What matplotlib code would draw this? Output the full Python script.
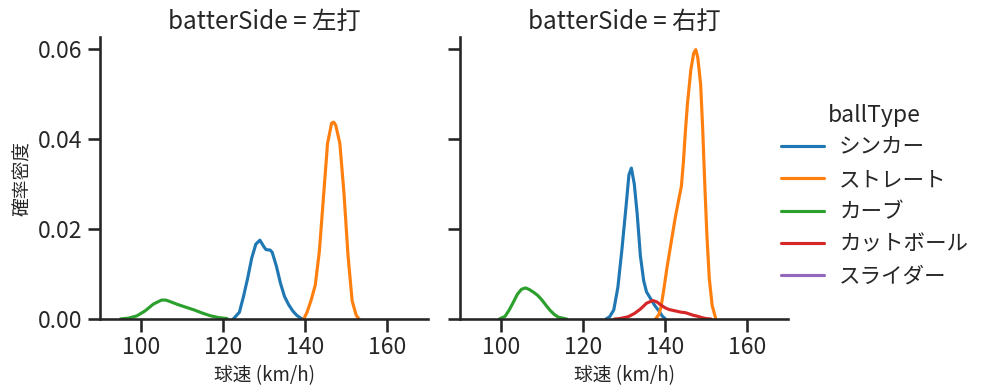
import matplotlib
matplotlib.use("Agg")
import matplotlib.pyplot as plt
import seaborn as sns

sns.set_theme(context="talk", style="ticks")
plt.rcParams['font.family'] = ['Noto Sans CJK JP', 'DejaVu Sans']

ball_types = ["シンカー", "ストレート", "カーブ", "カットボール", "スライダー"]
colors = {"シンカー": "#1f77b4", "ストレート": "#ff7f0e", "カーブ": "#2ca02c",
          "カットボール": "#d62728", "スライダー": "#9467bd"}
panels = ["左打", "右打"]

# ---- left panel (左打) curves ----
L_sinker_x = [122.5, 124, 125, 126, 127, 128, 129, 130, 130.5, 131.5, 132, 133, 134, 135, 136, 137, 138, 139.3]
L_sinker_y = [0, 0.0015, 0.005, 0.009, 0.0135, 0.0166, 0.0175, 0.0160, 0.0154, 0.0153, 0.0148, 0.0118, 0.0080, 0.0050, 0.0032, 0.0018, 0.0008, 0]
L_straight_x = [139.7, 140.5, 141.5, 142.5, 143.5, 144.5, 145.5, 146.5, 147, 147.5, 148.5, 149.5, 150.5, 151.5, 152.5, 153.2]
L_straight_y = [0, 0.0015, 0.0042, 0.0075, 0.015, 0.027, 0.039, 0.0435, 0.0437, 0.043, 0.039, 0.028, 0.014, 0.004, 0.0008, 0]
L_curve_x = [95, 97, 99, 101, 103, 105, 106, 107, 109, 111, 113, 115, 117, 119, 121]
L_curve_y = [0, 0.0002, 0.0007, 0.0018, 0.0033, 0.0042, 0.0042, 0.0039, 0.0032, 0.0026, 0.0020, 0.0013, 0.0007, 0.0003, 0.0001]

# ---- right panel (右打) curves ----
R_sinker_x = [125.6, 126.5, 127.5, 128.5, 129.5, 130.5, 131.2, 131.8, 132.5, 133.2, 134, 134.8, 135.5, 136.5, 137.5, 138.5, 139.3, 140.1]
R_sinker_y = [0, 0.0005, 0.002, 0.007, 0.0155, 0.025, 0.032, 0.0335, 0.030, 0.0235, 0.014, 0.0085, 0.006, 0.0045, 0.003, 0.0018, 0.0007, 0]
R_straight_x = [137.7, 138.5, 139, 139.7, 140.5, 141.5, 142.5, 143.2, 144, 144.5, 145, 145.5, 146.3, 147, 147.5, 148, 148.7, 149.2, 149.7, 150.2, 150.8, 151.5, 152.4]
R_straight_y = [0, 0.001, 0.0025, 0.0065, 0.0115, 0.017, 0.0225, 0.0258, 0.0295, 0.035, 0.042, 0.048, 0.0553, 0.059, 0.0598, 0.058, 0.052, 0.042, 0.030, 0.019, 0.009, 0.003, 0]
R_curve_x = [99.6, 101, 102, 103, 104, 105, 106, 107, 108, 109, 110, 111, 112, 113, 114, 116]
R_curve_y = [0, 0.0006, 0.002, 0.0037, 0.0055, 0.0066, 0.0069, 0.0065, 0.0059, 0.0052, 0.0042, 0.003, 0.0019, 0.001, 0.0004, 0]
R_cutter_x = [127.7, 129, 131, 132.5, 134, 135.5, 137, 138, 139, 140, 141, 142, 143, 144, 145, 146, 147, 148, 149, 150, 151.2]
R_cutter_y = [0, 0.0001, 0.0005, 0.0012, 0.0022, 0.0035, 0.0041, 0.0038, 0.0031, 0.0025, 0.0021, 0.0019, 0.0017, 0.0015, 0.0014, 0.0011, 0.0008, 0.0006, 0.0003, 0.0001, 0]

data = {
    "左打": {"シンカー": (L_sinker_x, L_sinker_y), "ストレート": (L_straight_x, L_straight_y),
             "カーブ": (L_curve_x, L_curve_y)},
    "右打": {"シンカー": (R_sinker_x, R_sinker_y), "ストレート": (R_straight_x, R_straight_y),
             "カーブ": (R_curve_x, R_curve_y), "カットボール": (R_cutter_x, R_cutter_y)},
}

xticks = [100, 120, 140, 160]
yticks = [0.00, 0.02, 0.04, 0.06]

fig = plt.figure(figsize=(9.97, 3.91), dpi=100)
ax1 = fig.add_axes([100/997, 72/391, 328/997, 282/391])
ax2 = fig.add_axes([460/997, 72/391, 328/997, 282/391], sharey=ax1)
axes = [ax1, ax2]

for ax, side in zip(axes, panels):
    for bt in ball_types:
        if bt in data[side]:
            xs, ys = data[side][bt]
            ax.plot(xs, ys, color=colors[bt], lw=2.25)
    ax.set_xlim(90, 170)
    ax.set_ylim(0, 0.0626)
    ax.set_xticks(xticks)
    ax.set_yticks(yticks)
    ax.set_title(f"batterSide = {side}", fontsize=17.5)
    ax.set_xlabel("球速 (km/h)", fontsize=13.5, labelpad=4)
    ax.tick_params(labelsize=16.5)
    sns.despine(ax=ax)

ax1.set_ylabel("確率密度", fontsize=13.5)
ax2.tick_params(labelleft=False)

handles = [plt.Line2D([], [], color=colors[bt], lw=2.25) for bt in ball_types]
fig.legend(handles, ball_types, title="ballType", loc="center left",
           bbox_to_anchor=(0.764, 0.5), frameon=False, fontsize=15.5, title_fontsize=16.5,
           handletextpad=0.7, labelspacing=0.47)

fig.savefig("out.png", dpi=100)
